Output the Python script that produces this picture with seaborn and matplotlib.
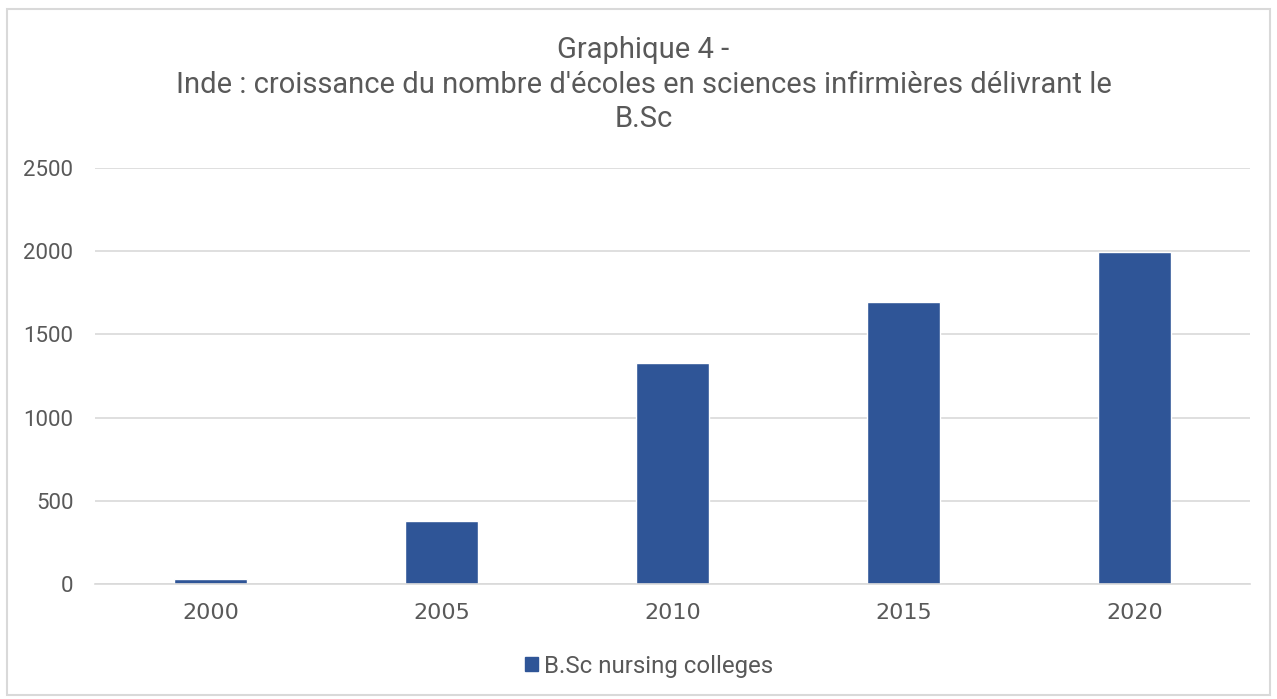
import matplotlib
matplotlib.use("Agg")
import matplotlib.pyplot as plt
import seaborn as sns
import pandas as pd
from matplotlib.patches import Rectangle

years = ["2000", "2005", "2010", "2015", "2020"]
values = [28, 380, 1330, 1697, 1995]
series_name = "B.Sc nursing colleges"
title_lines = ["Graphique 4 -",
               "Inde : croissance du nombre d'écoles en sciences infirmières délivrant le",
               "B.Sc"]
yticks = [0, 500, 1000, 1500, 2000, 2500]

sns.set_theme(style="white")
plt.rcParams['font.family'] = ['Roboto', 'DejaVu Sans']

BAR = "#2F5597"
TXT = "#595959"
GRID = "#D9D9D9"

df = pd.DataFrame({"year": years, "value": values})

fig = plt.figure(figsize=(12.77, 6.99), dpi=100)
ax = fig.add_axes([0.0744, 0.1645, 0.9045, 0.5952])

sns.barplot(data=df, x="year", y="value", color=BAR, width=0.316, ax=ax,
            saturation=1, label=series_name)

ax.set_ylim(0, 2500)
ax.set_xlim(-0.5, 4.5)
ax.set_yticks(yticks)
ax.set_yticklabels([str(t) for t in yticks])
ax.yaxis.grid(True, color=GRID, linewidth=1.2)
ax.set_axisbelow(True)
for s in ["top", "right", "left"]:
    ax.spines[s].set_visible(False)
ax.spines["bottom"].set_color(GRID)
ax.spines["bottom"].set_linewidth(1.2)
ax.set_xlabel("")
ax.set_ylabel("")
ax.tick_params(axis="both", length=0, colors=TXT)
ax.tick_params(axis="y", pad=15.5, labelsize=16)
ax.tick_params(axis="x", pad=14, labelsize=16)
for lab in ax.get_xticklabels():
    lab.set_family(["DejaVu Sans"])
if ax.get_legend():
    ax.get_legend().remove()

ys = [0.929, 0.878, 0.830]
for t, y in zip(title_lines, ys):
    fig.text(0.504, y, t, ha="center", va="center", fontsize=21, color=TXT)

handle = Rectangle((0, 0), 1, 1, color=BAR)
fig.legend([handle], [series_name], loc="center", bbox_to_anchor=(0.508, 0.047),
           frameon=False, fontsize=17.3, labelcolor=TXT, handlelength=0.55,
           handleheight=0.55, handletextpad=0.25)

fig.add_artist(Rectangle((0.0055, 0.006), 0.989, 0.981, transform=fig.transFigure,
                         fill=False, edgecolor=GRID, linewidth=1.5))

fig.savefig("out.png", dpi=100, facecolor="white")
